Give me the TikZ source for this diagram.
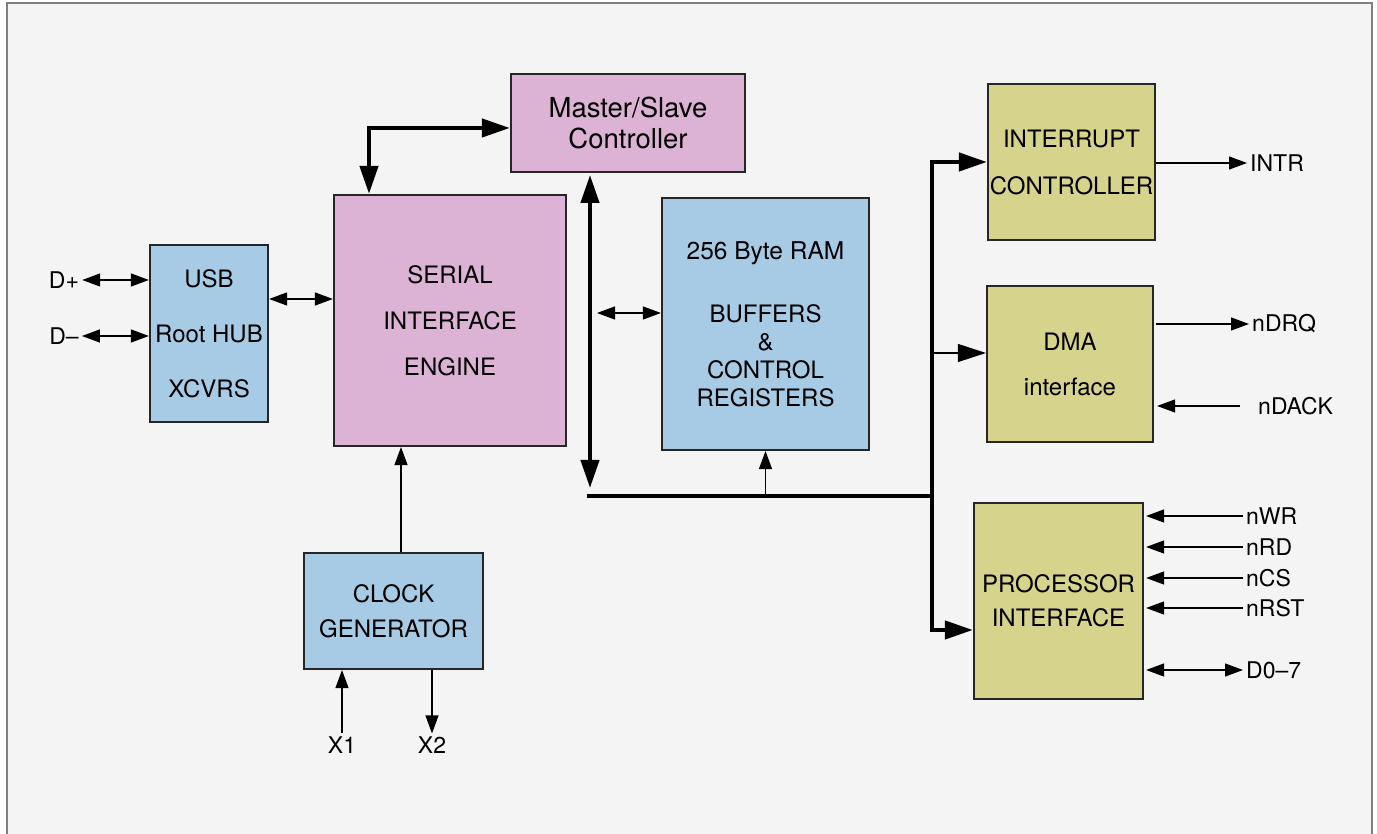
\documentclass[tikz,border=0pt]{standalone}
\usepackage{fontspec}
\setmainfont{TeX Gyre Heros}
\usetikzlibrary{arrows.meta}

\definecolor{boxblue}{RGB}{167,203,229}
\definecolor{boxpink}{RGB}{221,179,213}
\definecolor{boxolive}{RGB}{214,211,140}
\definecolor{panel}{RGB}{244,244,244}

\begin{document}
\begin{tikzpicture}[x=1pt, y=1pt,
   blk/.style={draw=black!85, line width=2.2pt, inner sep=0pt, align=center},
   lbl/.style={font=\fontsize{23}{27}\selectfont, inner sep=3pt},
   sig/.style={line width=1.2pt, >={Triangle[length=18pt,width=13pt]}},
   bus/.style={line width=4.2pt, >={Triangle[length=28pt,width=18pt]}}]
\useasboundingbox (0,0) rectangle (1377,834);
\fill[white] (0,0) rectangle (1377,834);
\filldraw[fill=panel, draw=gray, line width=1.5pt] (7,-5) -- (7,831) -- (1372,831) -- (1372,-5);

% blocks
\node[blk, fill=boxblue, minimum width=118pt, minimum height=177pt,
   font=\fontsize{24}{55}\selectfont] (usb) at (209,500.5) {USB\\Root HUB\\XCVRS};
\node[blk, fill=boxpink, minimum width=232pt, minimum height=251pt,
   font=\fontsize{24}{46}\selectfont] (sie) at (450,513.5) {SERIAL\\INTERFACE\\ENGINE};
\node[blk, fill=boxpink, minimum width=234pt, minimum height=98pt,
   font=\fontsize{27.5}{31}\selectfont] (ms) at (628,711) {Master/Slave\\Controller};
\node[blk, fill=boxblue, minimum width=207pt, minimum height=252pt,
   font=\fontsize{24}{28}\selectfont] (ram) at (765.5,510)
   {{\fontsize{24.5}{28}\selectfont 256 Byte RAM}\\[35pt]BUFFERS\\\&\\CONTROL\\REGISTERS};
\node[blk, fill=boxblue, minimum width=179pt, minimum height=116pt,
   font=\fontsize{24}{35}\selectfont] (clk) at (393.5,223) {CLOCK\\GENERATOR};
\node[blk, fill=boxolive, minimum width=167pt, minimum height=156pt,
   font=\fontsize{24}{47}\selectfont] (intc) at (1071.5,672) {INTERRUPT\\CONTROLLER};
\node[blk, fill=boxolive, minimum width=166pt, minimum height=156pt,
   font=\fontsize{24}{45}\selectfont] (dma) at (1070,470) {DMA\\interface};
\node[blk, fill=boxolive, minimum width=169pt, minimum height=196pt,
   font=\fontsize{24}{34}\selectfont] (proc) at (1058.5,233) {PROCESSOR\\INTERFACE};

% pins
\node[lbl] (dp) at (64,554) {D+};
\node[lbl] (dm) at (64,498) {D–};
\node[lbl] (xone) at (342,89) {X1};
\node[lbl] (xtwo) at (432,89) {X2};
\node[lbl, anchor=west] (intr) at (1247,671) {INTR};
\node[lbl, anchor=west] (ndrq) at (1249,510) {nDRQ};
\node[lbl, anchor=west] (ndack) at (1255,428) {nDACK};
\node[lbl, anchor=west] (dbus) at (1243,164) {D0–7};

\draw[sig,<->] (dp.east) -- (dp.east -| usb.west);
\draw[sig,<->] (dm.east) -- (dm.east -| usb.west);
\draw[sig,<->] ([yshift=34.5pt]usb.east) -- ([yshift=21.5pt]sie.west);
\draw[sig,->] (xone.north) -- (xone.north |- clk.south);
\draw[sig,->] (xtwo.north |- clk.south) -- (xtwo.north);
\coordinate (clkout) at ([xshift=7.5pt]clk.north);
\draw[sig,->] (clkout) -- (clkout |- sie.south);

% buses
\coordinate (bustop) at (590,659);
\coordinate (busbot) at (590,346);
\coordinate (busL) at (587,338);
\coordinate (busR) at (932,338);
\draw[bus,<->] ([yshift=-5pt]ms.west) -| ([xshift=-81pt]sie.north);
\draw[bus,<->] (bustop) -- (busbot);
\draw[bus] (busL) -- (busR);
\draw[bus,->] (busR) |- (intc.west);
\draw[bus,->] (busR) |- ([yshift=-29pt]proc.west);
\coordinate (dmain) at ([yshift=11pt]dma.west);
\draw[sig, >={Triangle[length=28pt,width=18pt]}, ->] (dmain -| busR) -- (dmain);
\coordinate (ramin) at (597,521);
\draw[sig,<->] (ramin) -- (ramin -| ram.west);
\draw[sig,->] (ram.south |- busL) -- (ram.south);

% outputs and inputs
\draw[sig,->] (intc.east |- intr) -- (intr.west);
\draw[sig,->] ([xshift=2pt]dma.east |- ndrq) -- (ndrq.west);
\draw[sig,->] ([xshift=-15pt]ndack.west) -- ([xshift=3pt]dma.east |- ndack);
\foreach \nm/\yy in {nWR/318, nRD/287, nCS/256, nRST/226} {
   \node[lbl, anchor=west] (\nm) at (1243,\yy) {\nm};
   \draw[sig,->] (\nm.west) -- ([xshift=2pt]proc.east |- \nm);
}
\draw[sig,<->] ([xshift=2pt]proc.east |- dbus) -- (dbus.west);

\end{tikzpicture}
\end{document}
